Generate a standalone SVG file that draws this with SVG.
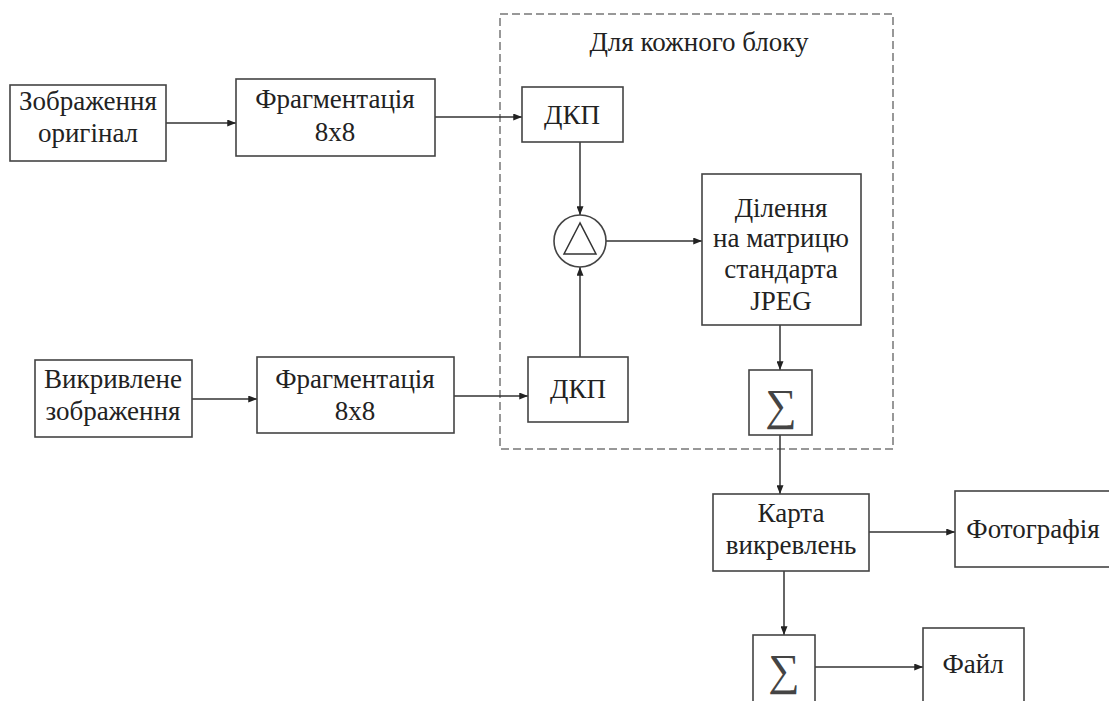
<svg xmlns="http://www.w3.org/2000/svg" width="1109" height="701" viewBox="0 0 1109 701">
  <defs>
    <marker id="arrow" viewBox="0 0 10 8" refX="10" refY="4" markerWidth="9" markerHeight="7" markerUnits="userSpaceOnUse" orient="auto">
      <path d="M0,0 L10,4 L0,8 Z" fill="#222"/>
    </marker>
  </defs>
  <style>
    .box { fill: #fff; stroke: #444; stroke-width: 1.6; }
    .lbl { font-family: "Liberation Serif", "Times New Roman", serif; font-size: 27px; fill: #222; text-anchor: middle; }
    .sig { font-family: "Liberation Serif", "DejaVu Serif", serif; font-size: 44px; fill: #444; text-anchor: middle; }
    .wire { fill: none; stroke: #333; stroke-width: 1.5; }
    .arr { marker-end: url(#arrow); }
    .frame { fill: none; stroke: #777; stroke-width: 1.5; stroke-dasharray: 8 4; }
  </style>
  <rect width="1109" height="701" fill="#fff"/>

  <!-- per-block processing frame -->
  <g id="frame">
    <rect class="frame" x="500" y="14" width="393" height="435"/>
    <text class="lbl" x="699" y="51">Для кожного блоку</text>
  </g>

  <!-- connectors -->
  <g id="connectors">
    <line class="wire arr" x1="166" y1="123" x2="236" y2="123"/>
    <line class="wire arr" x1="435" y1="117" x2="522" y2="117"/>
    <line class="wire arr" x1="580" y1="142" x2="580" y2="215"/>
    <line class="wire arr" x1="580" y1="357" x2="580" y2="267"/>
    <line class="wire arr" x1="606" y1="241" x2="702" y2="241"/>
    <line class="wire arr" x1="192" y1="399" x2="257" y2="399"/>
    <line class="wire arr" x1="454" y1="396" x2="528" y2="396"/>
    <line class="wire arr" x1="780" y1="325" x2="780" y2="370"/>
    <line class="wire arr" x1="780" y1="435" x2="780" y2="494"/>
    <line class="wire arr" x1="869" y1="532" x2="955" y2="532"/>
    <line class="wire arr" x1="784" y1="571" x2="784" y2="635"/>
    <line class="wire arr" x1="815" y1="667" x2="923" y2="667"/>
  </g>

  <g id="source">
    <rect class="box" x="10" y="85" width="156" height="76"/>
    <text class="lbl" x="88" y="110">Зображення</text>
    <text class="lbl" x="88" y="142">оригінал</text>
  </g>

  <g id="frag1">
    <rect class="box" x="236" y="79" width="199" height="77"/>
    <text class="lbl" x="335" y="108">Фрагментація</text>
    <text class="lbl" x="335" y="141">8x8</text>
  </g>

  <g id="dct1">
    <rect class="box" x="522" y="87" width="101" height="55"/>
    <text class="lbl" x="572" y="124">ДКП</text>
  </g>

  <g id="diff">
    <circle class="box" cx="580" cy="241" r="26"/>
    <polygon points="580,223 564,254 596,254" fill="none" stroke="#333" stroke-width="1.5"/>
  </g>

  <g id="quant">
    <rect class="box" x="702" y="174" width="159" height="151"/>
    <text class="lbl" x="781" y="217">Ділення</text>
    <text class="lbl" x="781" y="247">на матрицю</text>
    <text class="lbl" x="781" y="278">стандарта</text>
    <text class="lbl" x="781" y="310">JPEG</text>
  </g>

  <g id="distorted">
    <rect class="box" x="35" y="360" width="157" height="77"/>
    <text class="lbl" x="113" y="388">Викривлене</text>
    <text class="lbl" x="113" y="420">зображення</text>
  </g>

  <g id="frag2">
    <rect class="box" x="257" y="357" width="197" height="76"/>
    <text class="lbl" x="355" y="388">Фрагментація</text>
    <text class="lbl" x="355" y="420">8x8</text>
  </g>

  <g id="dct2">
    <rect class="box" x="528" y="357" width="100" height="65"/>
    <text class="lbl" x="578" y="398">ДКП</text>
  </g>

  <g id="sum1">
    <rect class="box" x="749" y="370" width="63" height="65"/>
    <text class="sig" x="781" y="420">∑</text>
  </g>

  <g id="map">
    <rect class="box" x="713" y="494" width="156" height="77"/>
    <text class="lbl" x="791" y="522">Карта</text>
    <text class="lbl" x="791" y="554">викревлень</text>
  </g>

  <g id="photo">
    <rect class="box" x="955" y="491" width="160" height="76"/>
    <text class="lbl" x="1033" y="538">Фотографія</text>
  </g>

  <g id="sum2">
    <rect class="box" x="753" y="635" width="62" height="70"/>
    <text class="sig" x="784" y="685">∑</text>
  </g>

  <g id="file">
    <rect class="box" x="923" y="628" width="101" height="80"/>
    <text class="lbl" x="973" y="673">Файл</text>
  </g>
</svg>
